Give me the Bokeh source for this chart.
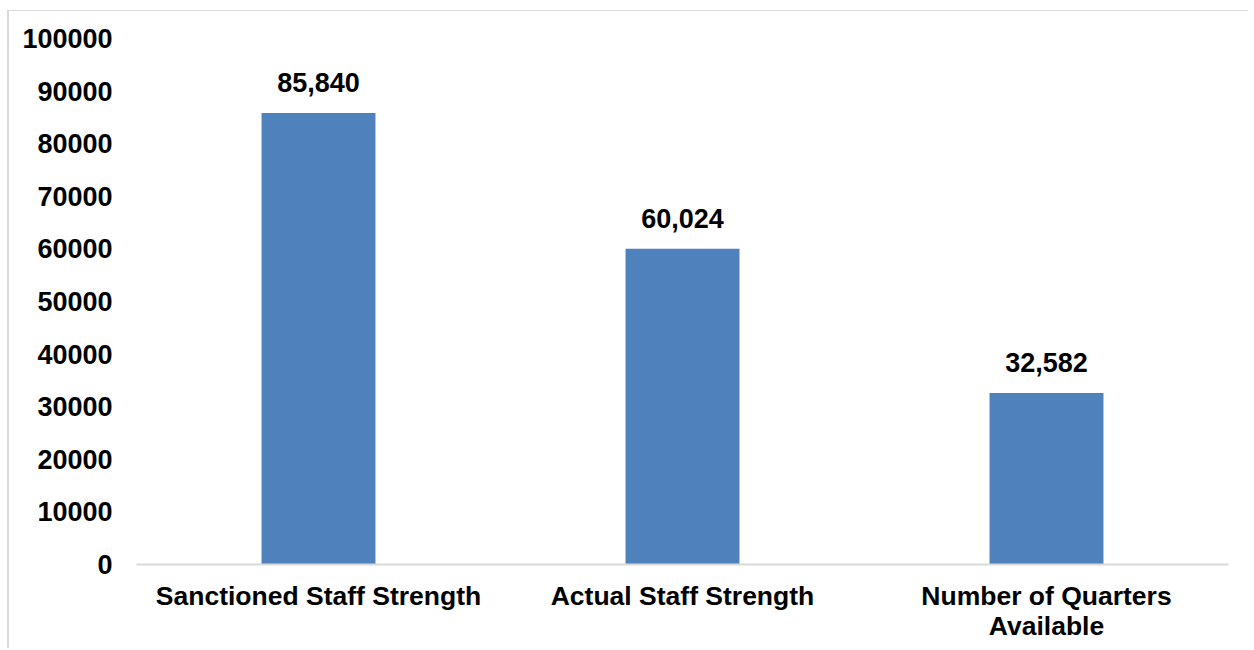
from bokeh.plotting import figure
from bokeh.models import ColumnDataSource, LabelSet, FixedTicker, NumeralTickFormatter, Range1d
from bokeh.core.properties import value
from bokeh.embed import file_html
from bokeh.resources import INLINE

categories = ["Sanctioned Staff Strength", "Actual Staff Strength", "Number of Quarters\nAvailable"]
values = [85840, 60024, 32582]
value_labels = ["85,840", "60,024", "32,582"]
y_ticks = [0, 10000, 20000, 30000, 40000, 50000, 60000, 70000, 80000, 90000, 100000]

src = ColumnDataSource(dict(cat=categories, val=values, lab=value_labels))

p = figure(x_range=categories, y_range=Range1d(0, 100000),
           frame_width=1092, frame_height=526,
           min_border_left=127, min_border_top=27, min_border_right=20, min_border_bottom=84,
           output_backend="svg", toolbar_location=None, tools="")
p.styles = {"margin": "10px 0 0 7px",
            "border-top": "1px solid #d9d9d9", "border-left": "2px solid #d9d9d9"}

p.vbar(x="cat", top="val", width=0.313, source=src, fill_color="#4F81BD", line_color=None)

labels = LabelSet(x="cat", y="val", text="lab", source=src, text_align="center",
                  text_baseline="alphabetic", y_offset=21,
                  text_font=value("Liberation Sans"), text_font_style="bold",
                  text_font_size="27px", text_color="black")
p.add_layout(labels)

p.outline_line_color = None
p.xgrid.grid_line_color = None
p.ygrid.grid_line_color = None

p.yaxis.ticker = FixedTicker(ticks=y_ticks)
p.yaxis.formatter = NumeralTickFormatter(format="0")
p.yaxis.axis_line_color = None
p.yaxis.major_tick_line_color = None
p.yaxis.minor_tick_line_color = None
p.yaxis.major_tick_out = 0
p.yaxis.major_tick_in = 0
p.yaxis.major_label_standoff = 24

p.xaxis.axis_line_color = "#d9d9d9"
p.xaxis.axis_line_width = 2
p.xaxis.major_tick_line_color = None
p.xaxis.minor_tick_line_color = None
p.xaxis.major_tick_out = 0
p.xaxis.major_tick_in = 0
p.xaxis.major_label_standoff = 16
p.xaxis.major_label_text_line_height = 1.0

for ax in (p.xaxis[0], p.yaxis[0]):
    ax.major_label_text_font = "Liberation Sans"
    ax.major_label_text_font_style = "bold"
    ax.major_label_text_color = "black"
p.yaxis.major_label_text_font_size = "27px"
p.xaxis.major_label_text_font_size = "26.5px"

p.background_fill_color = "white"
p.border_fill_color = "white"

open("out.html", "w").write(file_html(p, INLINE))
